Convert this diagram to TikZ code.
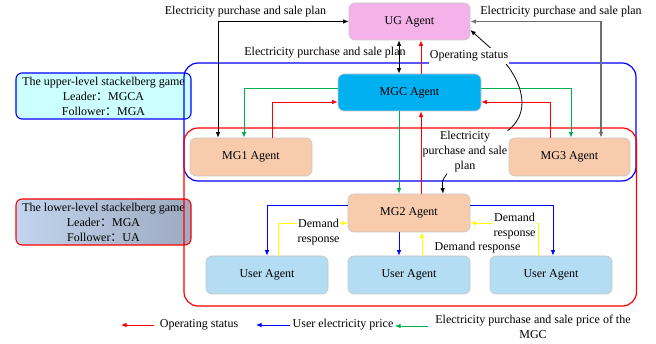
\documentclass[tikz,border=0pt]{standalone}
\usepackage{fontspec}
\setmainfont{Liberation Serif}
\newfontfamily\cjkfont{Noto Sans CJK SC}
\usetikzlibrary{arrows.meta,shadings}

\definecolor{ugpink}{HTML}{F5B1E9}
\definecolor{mgcblue}{HTML}{00B0F0}
\definecolor{mgpeach}{HTML}{F8CBAD}
\definecolor{userblue}{HTML}{B4DCF3}
\definecolor{boxedge}{HTML}{C8C8C8}
\definecolor{upfill}{HTML}{CCFFFF}
\definecolor{lowA}{HTML}{C2D4EE}
\definecolor{lowB}{HTML}{9DAAC0}
\definecolor{pricegreen}{HTML}{00B050}
\definecolor{plangray}{HTML}{6E6E6E}
\definecolor{dryellow}{HTML}{FFFF00}

\newcommand{\fwcolon}{{\cjkfont ：}}

\tikzset{
  agent/.style={draw=boxedge, line width=0.7pt, rounded corners=6pt,
                minimum height=37pt, inner sep=0pt},
  gamebox/.style={rounded corners=6pt, line width=1.1pt, align=center,
                  minimum width=175pt, minimum height=46pt, inner sep=0pt},
  conn/.style={line width=0.8pt},
  lbl/.style={align=center, inner sep=1pt},
  frame/.style={line width=1.2pt, rounded corners=14pt},
}

\begin{document}
\begin{tikzpicture}[x=1pt, y=-1pt, font=\fontsize{12}{15}\selectfont,
                    >={Latex[length=5.5pt,width=4.5pt]}]
\useasboundingbox (0,0) rectangle (656,344);

% game description boxes on the left
\node[gamebox, draw=blue, fill=upfill] (upg) at (103.5,96)
  {The upper-level stackelberg game\\Leader\fwcolon MGCA\\Follower\fwcolon MGA};
\node[gamebox, draw=red, left color=lowA, right color=lowB] (lowg) at (103.5,222)
  {The lower-level stackelberg game\\Leader\fwcolon MGA\\Follower\fwcolon UA};

% frames of the two games
\draw[frame, blue] (184,63) rectangle (636,181);
\draw[frame, red] (184,128) rectangle (636.5,306);

% agents
\node[agent, fill=ugpink, minimum width=121pt] (UG) at (409.5,21.5) {UG Agent};
\node[agent, fill=mgcblue, minimum width=143pt] (MGC) at (409.5,92.5) {MGC Agent};
\node[agent, fill=mgpeach, minimum width=122pt, minimum height=38pt] (MG1) at (251,157) {MG1 Agent};
\node[agent, fill=mgpeach, minimum width=121pt, minimum height=38pt] (MG3) at (569.5,157) {MG3 Agent};
\node[agent, fill=mgpeach, minimum width=122pt, minimum height=38pt] (MG2) at (409,213) {MG2 Agent};
\node[agent, fill=userblue, minimum width=122pt, minimum height=38pt] (U1) at (267,275) {User Agent};
\node[agent, fill=userblue, minimum width=122pt, minimum height=38pt] (U2) at (409,275) {User Agent};
\node[agent, fill=userblue, minimum width=122pt, minimum height=38pt] (U3) at (551,275) {User Agent};

% columns and rows used by the connectors
\coordinate (cA) at (218,0);
\coordinate (cB) at (244,0);
\coordinate (cC) at (272,0);
\coordinate (cD) at (399,0);
\coordinate (cE) at (421,0);
\coordinate (cF) at (550,0);
\coordinate (cG) at (571,0);
\coordinate (cH) at (601,0);
\coordinate (cK) at (443,0);
\coordinate (yG) at (0,88);
\coordinate (yR) at (0,102);
\coordinate (cU1) at (267,0);
\coordinate (cY1) at (278,0);
\coordinate (cY2) at (422,0);
\coordinate (cU3) at (553,0);
\coordinate (cY3) at (538,0);
\coordinate (yB) at (0,205);
\coordinate (yY) at (0,223);

% purchase and sale plans (black / gray)
\draw[conn, <->] (UG.west) -| (MG1.north -| cA);
\draw[conn, <->, plangray, line width=1.1pt] (UG.east) -| (MG3.north -| cH);
\draw[conn, <->] (UG.south -| cD) -- (MGC.north -| cD);

% operating status (red)
\draw[conn, ->, red] (MGC.north -| cE) -- (UG.south -| cE);
\draw[conn, ->, red] (MG1.north -| cC) |- (MGC.west |- yR);
\draw[conn, ->, red] (MG3.north -| cF) |- (MGC.east |- yR);
\draw[conn, ->, red] (MG2.north -| cE) -- (MGC.south -| cE);

% MGC purchase and sale price (green)
\draw[conn, ->, pricegreen] (MGC.west |- yG) -| (MG1.north -| cB);
\draw[conn, ->, pricegreen] (MGC.east |- yG) -| (MG3.north -| cG);
\draw[conn, ->, pricegreen] (MGC.south -| cD) -- (MG2.north -| cD);

% user electricity price (blue)
\draw[conn, ->, blue] (MG2.west |- yB) -| (U1.north -| cU1);
\draw[conn, ->, blue] (MG2.east |- yB) -| (U3.north -| cU3);
\draw[conn, ->, blue] (MG2.south -| cD) -- (U2.north -| cD);

% demand response (yellow)
\draw[conn, ->, dryellow] (U1.north -| cY1) |- (MG2.west |- yY);
\draw[conn, ->, dryellow] (U3.north -| cY3) |- (MG2.east |- yY);
\draw[conn, ->, dryellow] (U2.north -| cY2) -- (MG2.south -| cY2);

% operating status reported to the UG
\draw[conn, ->] ([shift={(-1pt,7pt)}]MG3.north west)
  .. controls (535,110) and (519,74) .. (495,52) -- ([yshift=-8.5pt]UG.east);

% connector labels
\node[lbl] (plTL) at (245.5,12) {Electricity purchase and sale plan};
\node[lbl] (plTR) at (561,12) {Electricity purchase and sale plan};
\node[lbl] (plM) at (325,53) {Electricity purchase and sale plan};
\node[lbl, fill=white, inner ysep=3pt] (ops) at (469,56) {Operating status};
\node[lbl] (pl2) at (465,152) {Electricity\\purchase and sale\\plan};
\draw[conn, ->] ([xshift=-18pt]pl2.south) .. controls (442,181) .. (MG2.north -| cK);
\node[lbl, fill=white] (dr1) at (318.5,232) {Demand\\response};
\node[lbl, fill=white] (dr3) at (514.5,226) {Demand\\response};
\node[lbl] (dr2) at (477.5,248) {Demand response};

% legend
\coordinate (lr1) at (121,325);
\coordinate (lr2) at (154,325);
\coordinate (lb1) at (256,325);
\coordinate (lb2) at (290,325);
\coordinate (lg1) at (395,326);
\coordinate (lg2) at (428,326);
\draw[conn, ->, red] (lr2) -- (lr1);
\node[lbl] (lt1) at (199,325) {Operating status};
\draw[conn, ->, blue] (lb2) -- (lb1);
\node[lbl] (lt2) at (343,325) {User electricity price};
\draw[conn, ->, pricegreen] (lg2) -- (lg1);
\node[lbl] (lt3) at (533,327) {Electricity purchase and sale price of the\\MGC};
\end{tikzpicture}
\end{document}
